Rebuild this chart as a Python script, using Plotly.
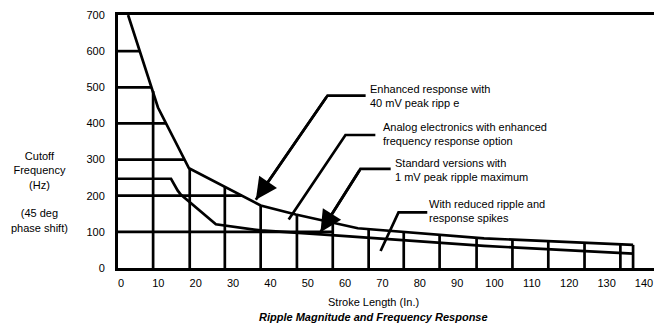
import numpy as np
import plotly.graph_objects as go

# Curva superior (resposta aprimorada) - limite externo das linhas de grade
upper_x = [2.7, 9.1, 10.7, 19.0, 38.2, 47.6, 57.5, 64.2, 98.0, 137.9]
upper_y = [700, 500, 444, 276, 173, 148, 126, 110, 82, 64]

# Curva inferior (versoes padrao)
lower_x = [0, 14.2, 16.0, 16.8, 26.2, 38.2, 54.3, 98.0, 137.9]
lower_y = [247, 247, 214, 203, 121, 104, 93, 61, 40]

# Linhas de grade verticais (posicoes em polegadas)
grid_x = [9.4, 19.2, 28.6, 38.2, 47.9, 57.5, 67.1, 76.5, 86.1, 96.0,
          105.6, 115.2, 124.9, 134.5, 137.9]
# Linhas de grade horizontais (Hz)
grid_y = [600, 500, 400, 300, 200]
h100_end = 57.5

x_ticks = list(range(0, 141, 10))
y_ticks = list(range(0, 701, 100))

FONT = "Liberation Sans, Arial, Helvetica, sans-serif"
LW = 2.7

fig = go.Figure()

# grade vertical: do zero ate a curva superior
vx, vy = [], []
for x in grid_x:
    top = float(np.interp(x, upper_x, upper_y))
    vx += [x, x, None]
    vy += [0, top, None]

# grade horizontal: do eixo ate a curva superior
hx, hy = [], []
for y in grid_y:
    end = float(np.interp(y, upper_y[::-1], upper_x[::-1]))
    hx += [0, end, None]
    hy += [y, y, None]
hx += [0, h100_end, None]
hy += [100, 100, None]

line = dict(color="black", width=LW)
fig.add_trace(go.Scatter(x=vx, y=vy, mode="lines", line=line, hoverinfo="skip"))
fig.add_trace(go.Scatter(x=hx, y=hy, mode="lines", line=line, hoverinfo="skip"))
fig.add_trace(go.Scatter(x=upper_x, y=upper_y, mode="lines", line=line,
                         cliponaxis=False, hoverinfo="skip"))
fig.add_trace(go.Scatter(x=lower_x, y=lower_y, mode="lines", line=line,
                         hoverinfo="skip"))

# chamadas (texto, inicio da linha horizontal, dobra, ponta, seta?)
callouts = [
    ("Enhanced response with<br>40 mV peak ripp e", (66.3, 477), (56.1, 477), (36.9, 189), True, (66.9, 477)),
    ("Analog electronics with enhanced<br>frequency response option", (68.9, 368), (60.9, 368), (45.7, 134), False, (70.4, 372)),
    ("Standard versions with<br>1 mV peak ripple maximum", (73.0, 274), (64.9, 274), (54.2, 99), True, (73.6, 272)),
    ("With reduced ripple and<br>response spikes", (82.8, 154), (75.1, 154), (70.3, 47), False, (82.6, 159)),
]

for text, p0, p1, p2, arrow, tpos in callouts:
    fig.add_trace(go.Scatter(x=[p0[0], p1[0], p2[0]], y=[p0[1], p1[1], p2[1]],
                             mode="lines", line=dict(color="black", width=LW),
                             hoverinfo="skip"))
    if arrow:
        fig.add_annotation(x=p2[0], y=p2[1], ax=p1[0], ay=p1[1],
                           xref="x", yref="y", axref="x", ayref="y",
                           text="", showarrow=True, arrowhead=2,
                           arrowsize=1.6, arrowwidth=LW, arrowcolor="black")
    fig.add_annotation(x=tpos[0], y=tpos[1], xref="x", yref="y", text=text,
                       showarrow=False, xanchor="left", yanchor="middle",
                       align="left", font=dict(size=11, color="black"))

fig.add_annotation(x=-0.147, y=0.30, xref="paper", yref="paper",
                   text="Cutoff<br>Frequency<br>(Hz)<br><br>(45 deg<br>phase shift)",
                   showarrow=False, xanchor="center", yanchor="middle",
                   align="center", font=dict(size=11, color="black"))
fig.add_annotation(x=0.477, y=-0.135, xref="paper", yref="paper",
                   text="Stroke Length (In.)", showarrow=False,
                   xanchor="center", yanchor="middle",
                   font=dict(size=11, color="black"))
fig.add_annotation(x=0.477, y=-0.195, xref="paper", yref="paper",
                   text="<b><i>Ripple Magnitude and Frequency Response</i></b>",
                   showarrow=False, xanchor="center", yanchor="middle",
                   font=dict(size=11, color="black"))

fig.update_layout(
    width=654, height=325,
    margin=dict(l=118, r=0, t=15, b=57),
    paper_bgcolor="white", plot_bgcolor="white",
    showlegend=False,
    font=dict(family=FONT, size=11, color="black"),
)
fig.update_xaxes(range=[0, 143.5], tickvals=x_ticks, showgrid=False,
                 zeroline=False, showline=True, linecolor="black",
                 linewidth=3, mirror=True, ticks="", ticklabelstandoff=3,
                 ticklabelshift=3)
fig.update_yaxes(range=[0, 700], tickvals=y_ticks, showgrid=False,
                 zeroline=False, showline=True, linecolor="black",
                 linewidth=3, ticks="", ticklabelstandoff=8)

fig.write_html("out.html", config={"displayModeBar": False},
               post_script="document.body.style.margin='0';")
